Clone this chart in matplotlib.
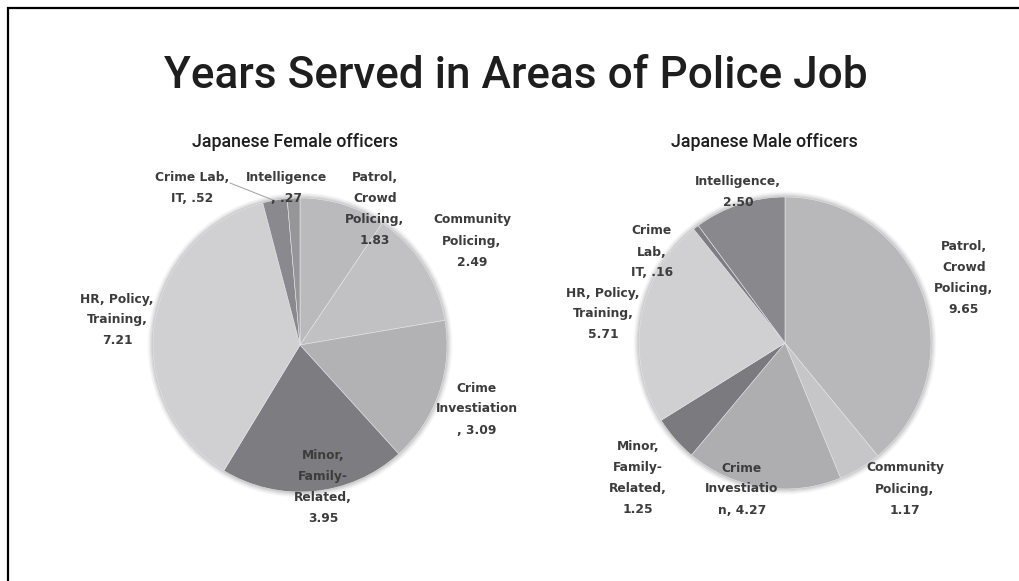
import matplotlib

matplotlib.use("Agg")
import matplotlib.pyplot as plt
from matplotlib.patches import Circle

# Years served, in pie order (clockwise from 12 o'clock)
AREAS = ["Patrol, Crowd Policing", "Community Policing", "Crime Investigation",
         "Minor, Family-Related", "HR, Policy, Training", "Crime Lab, IT", "Intelligence"]
FEMALE_YEARS = [1.83, 2.49, 3.09, 3.95, 7.21, 0.52, 0.27]
MALE_YEARS = [9.65, 1.17, 4.27, 1.25, 5.71, 0.16, 2.50]

# Label text as wrapped on the chart; {} takes the value
FEMALE_LABELS = ["Patrol,\nCrowd\nPolicing,\n{}", "Community\nPolicing,\n{}",
                 "Crime\nInvestiation\n, {}", "Minor,\nFamily-\nRelated,\n{}",
                 "HR, Policy,\nTraining,\n{}", "Crime Lab,\nIT, {}", "Intelligence\n, {}"]
MALE_LABELS = ["Patrol,\nCrowd\nPolicing,\n{}", "Community\nPolicing,\n{}",
               "Crime\nInvestiatio\nn, {}", "Minor,\nFamily-\nRelated,\n{}",
               "HR, Policy,\nTraining,\n{}", "Crime\nLab,\nIT, {}", "Intelligence,\n{}"]

TITLE = "Years Served in Areas of Police Job"
FEMALE_TITLE = "Japanese Female officers"
MALE_TITLE = "Japanese Male officers"

# ---- styling / layout (pixel space, y measured from top) ----
W, H = 1019, 581
FEMALE_COLORS = ["#bababd", "#c1c1c3", "#b2b2b5", "#7d7d81", "#d0d0d2", "#8a8a8e", "#969699"]
MALE_COLORS = ["#b8b8bb", "#c6c6c8", "#aeaeb1", "#7b7b7f", "#d0d0d2", "#7e7e82", "#89898d"]
TEXT = "#3c3c3c"
HEAD = "#1e1e1e"

FEMALE_CENTER, FEMALE_R = (300, 345), 147
MALE_CENTER, MALE_R = (785, 343), 146

FEMALE_LABEL_POS = [(375, 209), (472, 241), (477, 409), (323, 487),
                    (117, 320), (192, 188), (287, 188)]
MALE_LABEL_POS = [(964, 278), (905, 489), (742, 489), (638, 478),
                  (603, 314), (652, 252), (738, 192)]


def fmt(v):
    s = f"{v:.2f}"
    return s[1:] if s.startswith("0") else s


def flip(p):
    return (p[0], H - p[1])


def draw_pie(ax, values, colors, center, radius, labels, label_pos):
    cx, cy = flip(center)
    # soft halo round the pie
    for k, a in zip(range(7, 0, -1), [0.03, 0.04, 0.05, 0.06, 0.08, 0.10, 0.13]):
        ax.add_patch(Circle((cx, cy), radius + k * 0.8, color="#7a7a7a",
                            alpha=a, lw=0, zorder=0))
    ax.pie(values, colors=colors, startangle=90, counterclock=False,
           center=(cx, cy), radius=radius, frame=True,
           wedgeprops=dict(edgecolor="#e8e8ea", linewidth=0.4, zorder=1))
    for text, v, pos in zip(labels, values, label_pos):
        x, y = flip(pos)
        ax.text(x, y, text.format(fmt(v)), ha="center", va="center",
                fontsize=8.8, fontweight="bold", family="DejaVu Sans",
                color=TEXT, linespacing=1.8, zorder=5)


fig = plt.figure(figsize=(W / 100, H / 100), dpi=100)
ax = fig.add_axes([0, 0, 1, 1])

draw_pie(ax, FEMALE_YEARS, FEMALE_COLORS, FEMALE_CENTER, FEMALE_R,
         FEMALE_LABELS, FEMALE_LABEL_POS)
draw_pie(ax, MALE_YEARS, MALE_COLORS, MALE_CENTER, MALE_R,
         MALE_LABELS, MALE_LABEL_POS)

# leader line for the small Crime Lab slice
ax.plot([230, 273], [H - 183, H - 200], color="#a0a0a0", lw=0.7, zorder=4)

ax.set_xlim(0, W)
ax.set_ylim(0, H)
ax.set_aspect("equal")
ax.set_axis_off()

ax.text(516, H - 76, TITLE, ha="center", va="center", fontsize=31.8,
        family="Roboto", fontweight="medium", color=HEAD)
ax.text(295, H - 142, FEMALE_TITLE, ha="center", va="center", fontsize=12.8,
        family="Roboto", fontweight="medium", color=HEAD)
ax.text(764, H - 142, MALE_TITLE, ha="center", va="center", fontsize=12.8,
        family="Roboto", fontweight="medium", color=HEAD)

# outer frame (left and top edges)
ax.plot([8.5, 8.5, W], [0, H - 7.5, H - 7.5], color="black", lw=1.6,
        solid_joinstyle="miter", zorder=6)

fig.savefig("out.png", dpi=100)
